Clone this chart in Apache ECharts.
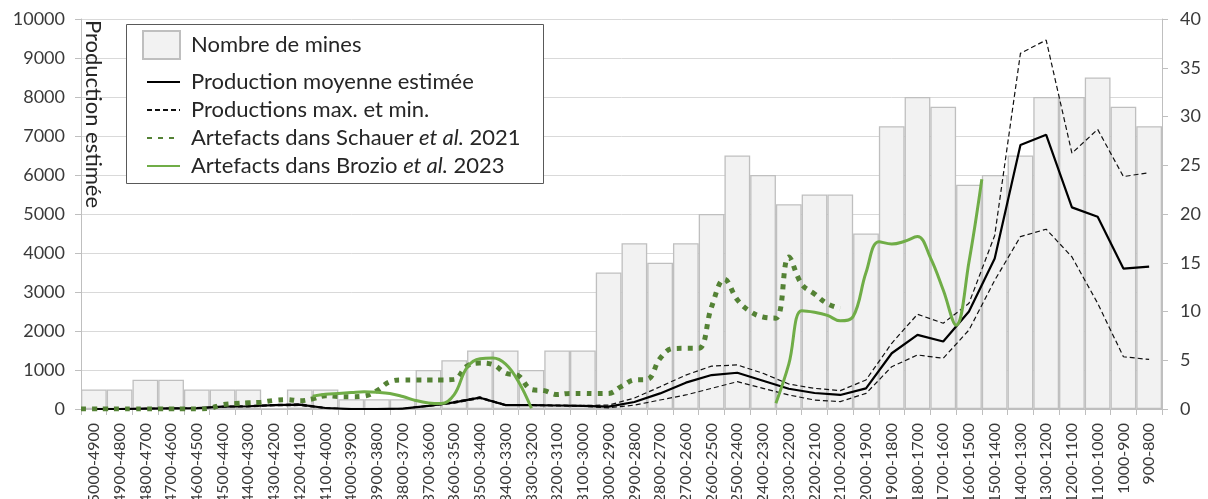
<!DOCTYPE html>
<html><head><meta charset="utf-8">
<script src="https://cdn.jsdelivr.net/npm/echarts@6/dist/echarts.min.js"></script>
<style>html,body{margin:0;padding:0;background:#fff}#c{width:1208px;height:499px}</style>
</head><body><div id="c"></div>
<script>
const categories = ['5000-4900','4900-4800','4800-4700','4700-4600','4600-4500','4500-4400','4400-4300','4300-4200','4200-4100','4100-4000',
'4000-3900','3900-3800','3800-3700','3700-3600','3600-3500','3500-3400','3400-3300','3300-3200','3200-3100','3100-3000',
'3000-2900','2900-2800','2800-2700','2700-2600','2600-2500','2500-2400','2400-2300','2300-2200','2200-2100','2100-2000',
'2000-1900','1900-1800','1800-1700','1700-1600','1600-1500','1500-1400','1400-1300','1300-1200','1200-1100','1100-1000',
'1000-900','900-800'];
const mines = [2,2,3,3,2,2,2,0,2,2,1,1,1,4,5,6,6,4,6,6,14,17,15,17,20,26,24,21,22,22,18,29,32,31,23,24,26,32,32,34,31,29];
const meanProd = [0,0,10,15,20,60,70,100,110,25,0,0,10,80,170,290,100,100,90,80,60,180,400,675,870,930,725,520,410,360,530,1430,1900,1730,2500,3860,6770,7030,5170,4930,3600,3650];
const maxProd = [0,0,15,20,25,70,85,115,130,35,0,0,15,90,190,310,110,110,100,90,100,280,570,870,1100,1130,915,640,530,470,745,1685,2430,2200,2710,4450,9120,9460,6560,7170,5960,6060];
const minProd = [0,0,5,10,15,50,55,85,90,15,0,0,5,70,150,270,90,90,80,70,30,100,230,360,530,700,530,360,230,190,400,1085,1385,1300,2025,3300,4420,4610,3900,2710,1340,1270];
const schauerYears = [5000,4950,4900,4850,4800,4750,4700,4650,4600,4550,
4500,4450,4400,4350,4300,4250,4200,4150,4100,4050,
4000,3950,3900,3850,3800,3750,3700,3650,3600,3550,
3500,3450,3400,3350,3300,3250,3200,3150,3100,3050,
3000,2950,2900,2850,2800,2750,2700,2650,2600,2550,
2500,2450,2400,2350,2300,2250,2200,2150,2100,2050];
const schauerValues = [0,0,0,0,0,0,0,0,0,0,
20,110,140,160,175,220,240,210,260,340,
320,315,330,470,700,745,745,745,745,760,
1100,1180,1140,920,850,500,470,370,400,400,
395,400,580,745,760,1300,1550,1555,1555,2620,
3330,2800,2500,2360,2330,3900,3200,2950,2700,2580];
const brozioYearsA = [4100,4050,4000,3950,3900,3850,3800,3750,3700,3650,3600,3550,3500,3450,3400,3350,3300,3250];
const brozioValuesA = [330,380,400,420,440,430,400,320,220,155,140,370,1070,1290,1305,1150,700,20];
const brozioYearsB = [2300,2250,2200,2150,2100,2050,2000,1950,1900,1850,1800,1750,1700,1650,1600,1550,1500];
const brozioValuesB = [150,1150,2520,2480,2400,2260,2370,3500,4290,4230,4300,4420,3880,3050,2150,3770,5890];
const leftTicks = [0,10000,1000];
const rightTicks = [0,40,5];

const FONT = 'Lato, "Open Sans", sans-serif';
const TXT = '#3a3a3a';
const zip = (a,b) => a.map((v,i)=>[v,b[i]]);
const N_MINES='Nombre de mines', N_MEAN='Production moyenne estimée', N_MM='Productions max. et min.',
      N_SCH='Artefacts dans Schauer et al. 2021', N_BRO='Artefacts dans Brozio et al. 2023';

const chart = echarts.init(document.getElementById('c'), null, {renderer:'canvas'});
chart.setOption({
  animation:false,
  backgroundColor:'#fff',
  grid:{left:81,right:46,top:19,bottom:90,containLabel:false,outerBoundsMode:'none'},
  xAxis:[
    {type:'category',data:categories,boundaryGap:true,
     axisLine:{show:true,lineStyle:{color:'#bfbfbf',width:1}},
     axisTick:{show:true,interval:0,length:6,lineStyle:{color:'#bfbfbf'}},
     axisLabel:{interval:0,rotate:90,margin:14,fontSize:16,fontFamily:FONT,color:TXT},
     splitLine:{show:false}},
    {type:'value',min:800,max:5000,inverse:true,show:false}
  ],
  yAxis:[
    {type:'value',min:leftTicks[0],max:leftTicks[1],interval:leftTicks[2],position:'left',
     axisLine:{show:true,lineStyle:{color:'#bfbfbf'}},
     axisTick:{show:true,length:6,lineStyle:{color:'#bfbfbf'}},
     axisLabel:{margin:16,fontSize:18,fontFamily:FONT,color:TXT,formatter:v=>String(v)},
     splitLine:{show:true,lineStyle:{color:'#d9d9d9',width:1}}},
    {type:'value',min:rightTicks[0],max:rightTicks[1],interval:rightTicks[2],position:'right',
     axisLine:{show:true,lineStyle:{color:'#bfbfbf'}},
     axisTick:{show:true,length:6,lineStyle:{color:'#bfbfbf'}},
     axisLabel:{margin:18,fontSize:18,fontFamily:FONT,color:TXT,formatter:v=>String(v)},
     splitLine:{show:false}}
  ],
  legend:[
    {data:[{name:N_MINES,icon:'rect'}],left:142,top:30,padding:0,itemWidth:37,itemHeight:28,
     selectedMode:false,z:20,
     textStyle:{fontSize:22,fontFamily:FONT,color:'#262626',padding:[0,0,0,6]}},
    {data:[N_MEAN,N_MM,N_SCH,N_BRO],orient:'vertical',left:146,top:71,padding:0,itemWidth:33,itemHeight:14,itemGap:6,
     selectedMode:false,z:20,
     itemStyle:{opacity:0},
     formatter:function(name){
       if(name===N_SCH) return '{n|Artefacts dans Schauer }{i|et al.}{n| 2021}';
       if(name===N_BRO) return '{n|Artefacts dans Brozio }{i|et al.}{n| 2023}';
       return '{n|'+name+'}';
     },
     textStyle:{fontSize:22,fontFamily:FONT,color:'#262626',lineHeight:22,padding:[0,0,0,6],
       rich:{n:{fontSize:22,fontFamily:FONT,color:'#262626',lineHeight:22},
             i:{fontSize:22,fontFamily:FONT,fontStyle:'italic',color:'#262626',lineHeight:22}}}}
  ],
  graphic:[
    {type:'rect',z:10,shape:{x:126.5,y:24.5,width:417,height:159},style:{fill:'#fff',stroke:'#595959',lineWidth:1}},
    {type:'text',z:20,x:93,y:20,rotation:-Math.PI/2,
     style:{text:'Production estimée',fontSize:22,fontFamily:FONT,fill:'#262626',align:'left',verticalAlign:'middle'}}
  ],
  series:[
    {name:N_MINES,type:'bar',xAxisIndex:0,yAxisIndex:1,data:mines,barCategoryGap:'0%',barGap:'0%',z:1,
     itemStyle:{color:'#f2f2f2',borderColor:'#bfbfbf',borderWidth:1.3}},
    {name:N_MM,type:'line',xAxisIndex:0,yAxisIndex:0,data:maxProd,symbol:'none',z:3,
     itemStyle:{color:'#111'},lineStyle:{color:'#111',width:1.2,type:[5,3]}},
    {name:N_MM,type:'line',xAxisIndex:0,yAxisIndex:0,data:minProd,symbol:'none',z:3,
     itemStyle:{color:'#111'},lineStyle:{color:'#111',width:1.2,type:[5,3]}},
    {name:N_MEAN,type:'line',xAxisIndex:0,yAxisIndex:0,data:meanProd,symbol:'none',z:4,
     itemStyle:{color:'#000'},lineStyle:{color:'#000',width:2.2}},
    {name:N_SCH,type:'line',xAxisIndex:1,yAxisIndex:0,data:zip(schauerYears,schauerValues),symbol:'none',smooth:0.4,z:5,
     itemStyle:{color:'#548235'},lineStyle:{color:'#548235',width:5,type:[5,6],cap:'butt'}},
    {name:N_BRO,type:'line',xAxisIndex:1,yAxisIndex:0,data:zip(brozioYearsA,brozioValuesA),symbol:'none',smooth:0.4,z:6,
     itemStyle:{color:'#70ad47'},lineStyle:{color:'#70ad47',width:3}},
    {name:N_BRO,type:'line',xAxisIndex:1,yAxisIndex:0,data:zip(brozioYearsB,brozioValuesB),symbol:'none',smooth:0.4,z:6,
     itemStyle:{color:'#70ad47'},lineStyle:{color:'#70ad47',width:3}}
  ]
});
</script></body></html>
